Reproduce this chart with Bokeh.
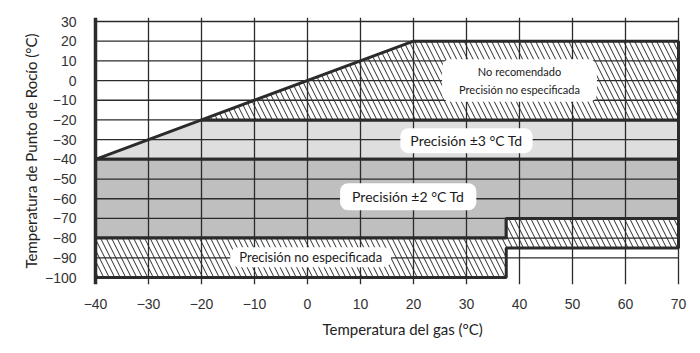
from bokeh.plotting import figure
from bokeh.models import Range1d, FixedTicker, Label, Title
from bokeh.embed import file_html
from bokeh.resources import INLINE

# ---- data ----
x_ticks = [-40, -30, -20, -10, 0, 10, 20, 30, 40, 50, 60, 70]
y_ticks = [-100, -90, -80, -70, -60, -50, -40, -30, -20, -10, 0, 10, 20, 30]

# "No recomendado / Precisión no especificada" (above the ±3 band, below the limit line)
no_rec_x = [-20, 20, 70, 70]
no_rec_y = [-20, 20, 20, -20]
# Precisión ±3 °C Td
acc3_x = [-40, -20, 70, 70]
acc3_y = [-40, -20, -20, -40]
# Precisión ±2 °C Td
acc2_x = [-40, 70, 70, 37.5, 37.5, -40]
acc2_y = [-40, -40, -70, -70, -80, -80]
# Precisión no especificada (low dew points)
unspec_x = [-40, 37.5, 37.5, 70, 70, 37.5, 37.5, -40]
unspec_y = [-80, -80, -70, -70, -85, -85, -100, -100]

DARK = "#2b2b2b"
FONT = "Lato"

xpx = 583 / 110   # pixels per x unit
ypx = 256 / 130   # pixels per y unit
p = figure(width=700, height=353,
           x_range=Range1d(x_ticks[0] - 3 / xpx, x_ticks[-1] + 3 / xpx),
           y_range=Range1d(y_ticks[0] - 7 / ypx, y_ticks[-1] + 4 / ypx),
           output_backend="svg", toolbar_location=None,
           min_border_left=92, min_border_right=19,
           min_border_top=17, min_border_bottom=69)
p.xgrid.visible = False
p.ygrid.visible = False
p.outline_line_color = None
p.background_fill_color = "white"
p.border_fill_color = "white"

# filled regions
p.patch(acc3_x, acc3_y, fill_color="#dedede", line_color=DARK, line_width=3)
p.patch(acc2_x, acc2_y, fill_color="#bfbfbf", line_color=DARK, line_width=3)
p.patch(no_rec_x, no_rec_y, fill_color="white", hatch_pattern="\\", hatch_color=DARK,
        hatch_weight=1, hatch_scale=11, line_color=DARK, line_width=3)
p.patch(unspec_x, unspec_y, fill_color="white", hatch_pattern="\\", hatch_color=DARK,
        hatch_weight=1, hatch_scale=11, line_color=DARK, line_width=3)

# grid drawn over the fills
hy = y_ticks[1:]
p.segment(x0=[x_ticks[0]] * len(hy), x1=[x_ticks[-1]] * len(hy), y0=hy, y1=hy,
          line_color=DARK, line_width=1.3)
vx = x_ticks[1:]
p.segment(x0=vx, x1=vx, y0=[p.y_range.start] * len(vx), y1=[p.y_range.end] * len(vx),
          line_color=DARK, line_width=1.3)
# left frame line
p.segment(x0=[x_ticks[0]], x1=[x_ticks[0]], y0=[p.y_range.start], y1=[p.y_range.end],
          line_color=DARK, line_width=3.5)

# axes
p.xaxis.ticker = FixedTicker(ticks=x_ticks)
p.xaxis.axis_line_color = None
p.xaxis.major_tick_line_color = None
p.xaxis.minor_tick_line_color = None
p.xaxis.major_label_standoff = 8
p.xaxis.major_label_text_font = "Liberation Sans"
p.xaxis.major_label_text_font_size = "14px"
p.xaxis.major_label_text_color = "#333333"

p.yaxis.ticker = FixedTicker(ticks=y_ticks)
p.yaxis.axis_line_color = None
p.yaxis.major_tick_line_color = None
p.yaxis.minor_tick_line_color = None
p.yaxis.major_label_standoff = 10
p.yaxis.major_label_text_font = "Liberation Sans"
p.yaxis.major_label_text_font_size = "14px"
p.yaxis.major_label_text_color = "#333333"
p.yaxis.axis_label = "Temperatura de Punto de Rocío (°C)"
p.yaxis.axis_label_text_font = FONT
p.yaxis.axis_label_text_font_style = "normal"
p.yaxis.axis_label_text_font_size = "15px"
p.yaxis.axis_label_text_color = "#222222"
p.yaxis.axis_label_standoff = 2

p.add_layout(Title(text="Temperatura del gas (°C)", align="left", offset=230,
                   text_font=FONT, text_font_style="normal", text_font_size="15px",
                   text_color="#222222", standoff=13), "below")

def box_label(x, y, text, size, pad_h, pad_v):
    p.add_layout(Label(x=x, y=y, text=text, text_align="center", text_baseline="middle",
                       text_font=FONT, text_font_size=size, text_color="#1a1a1a",
                       text_line_height=1.35,
                       background_fill_color="white", border_radius=8,
                       padding=dict(left=pad_h, right=pad_h, top=pad_v, bottom=pad_v)))

box_label(40, 0, "No recomendado\nPrecisión no especificada", "11px", 17, 6)
box_label(30, -30.5, "Precisión ±3 °C Td", "14px", 10, 4)
box_label(19, -59, "Precisión ±2 °C Td", "14px", 12, 5)
box_label(0.6, -89.7, "Precisión no especificada", "13px", 9, 2)

open("out.html", "w").write(file_html(p, INLINE))
